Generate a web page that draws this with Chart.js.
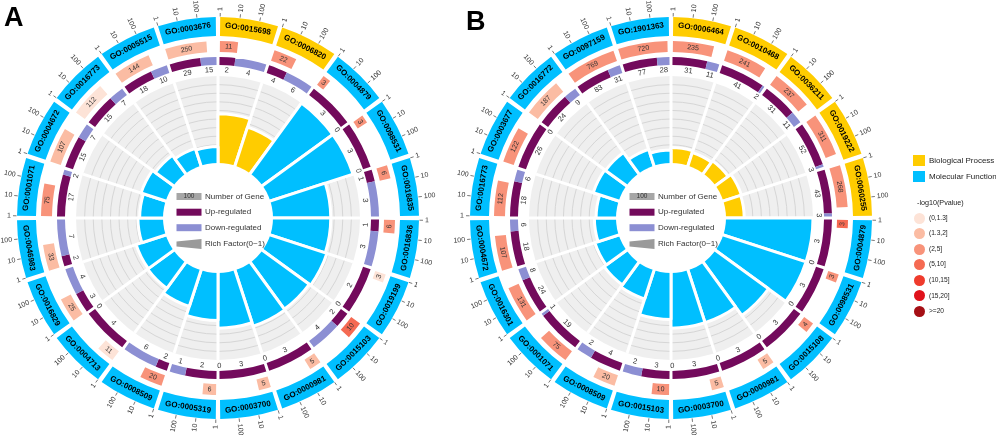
<!DOCTYPE html>
<html lang="en">
<head>
<meta charset="UTF-8" />
<title>GO enrichment circos</title>
<script src="https://cdn.jsdelivr.net/npm/chart.js"></script>
<style>
  body { margin: 0; background: #fff; font-family: "Liberation Sans", Arial, sans-serif; }
  #wrap { position: relative; width: 996px; height: 440px; overflow: hidden; }
  canvas { position: absolute; }
  .tag { position: absolute; font-weight: bold; font-size: 27px; color: #000; }
  .leg { position: absolute; font-size: 8px; color: #222; white-space: nowrap; }
  .sq { position: absolute; width: 12px; height: 11px; }
  .dot { position: absolute; width: 11px; height: 11px; border-radius: 50%; }
</style>
</head>
<body>
<div id="wrap">
  <canvas id="polarA" width="284" height="284" style="left:76px;top:76px"></canvas>
  <canvas id="ringA" width="996" height="440" style="left:0;top:0"></canvas>
  <canvas id="polarB" width="284" height="284" style="left:529px;top:76px"></canvas>
  <canvas id="ringB" width="996" height="440" style="left:0;top:0"></canvas>
  <div class="tag" style="left:4px;top:2px">A</div>
  <div class="tag" style="left:466px;top:6px">B</div>
  <div id="legend"></div>
</div>

<script>
  // ---- plot A ----
  const goA = ['GO:0015698', 'GO:0006820', 'GO:0004879', 'GO:0098531', 'GO:0016835', 'GO:0016836', 'GO:0019199',
    'GO:0015103', 'GO:0000981', 'GO:0003700', 'GO:0005319', 'GO:0008509', 'GO:0004713', 'GO:0016829',
    'GO:0046983', 'GO:0001071', 'GO:0004672', 'GO:0016773', 'GO:0005515', 'GO:0003676'];
  const typeA = ['BP', 'BP', 'MF', 'MF', 'MF', 'MF', 'MF', 'MF', 'MF', 'MF', 'MF', 'MF', 'MF', 'MF', 'MF', 'MF', 'MF', 'MF', 'MF', 'MF'];
  const countA = [11, 22, 3, 3, 6, 6, 3, 10, 5, 5, 6, 20, 11, 25, 33, 75, 107, 112, 144, 250];
  const pcatA = [2, 2, 2, 2, 2, 2, 0, 3, 1, 1, 1, 2, 0, 1, 1, 2, 1, 0, 1, 1];
  const upA = [2, 4, 3, 3, 1, 1, 2, 2, 3, 3, 2, 2, 4, 3, 2, 17, 15, 15, 18, 29];
  const downA = [4, 6, 0, 0, 3, 3, 0, 4, 0, 0, 1, 6, 0, 4, 7, 2, 7, 7, 10, 15];
  const richA = [0.56, 0.46, 1.0, 1.0, 0.66, 0.66, 0.68, 0.66, 0.67, 0.63, 0.54, 0.43, 0.36, 0.35, 0.28, 0.26, 0.29, 0.25, 0.2, 0.18];

  // ---- plot B ----
  const goB = ['GO:0006464', 'GO:0010468', 'GO:0036211', 'GO:0019222', 'GO:0060255', 'GO:0004879', 'GO:0098531',
    'GO:0015108', 'GO:0000981', 'GO:0003700', 'GO:0015103', 'GO:0008509', 'GO:0001071', 'GO:0016301',
    'GO:0004672', 'GO:0016773', 'GO:0003677', 'GO:0016772', 'GO:0097159', 'GO:1901363'];
  const typeB = ['BP', 'BP', 'BP', 'BP', 'BP', 'MF', 'MF', 'MF', 'MF', 'MF', 'MF', 'MF', 'MF', 'MF', 'MF', 'MF', 'MF', 'MF', 'MF', 'MF'];
  const countB = [235, 241, 237, 311, 268, 3, 3, 4, 5, 5, 10, 20, 75, 131, 107, 112, 122, 187, 769, 720];
  const pcatB = [2, 2, 2, 2, 2, 3, 2, 2, 1, 1, 2, 1, 2, 2, 2, 2, 2, 1, 2, 2];
  const upB = [31, 41, 31, 52, 43, 3, 3, 3, 3, 3, 3, 4, 19, 24, 18, 18, 26, 24, 83, 77];
  const downB = [11, 2, 11, 3, 3, 0, 0, 0, 0, 0, 2, 2, 1, 8, 6, 6, 0, 9, 31, 28];
  const richB = [0.17, 0.15, 0.17, 0.21, 0.2, 1.0, 1.0, 0.75, 0.63, 0.63, 0.53, 0.34, 0.31, 0.28, 0.24, 0.22, 0.3, 0.29, 0.19, 0.14];

  // legends / axis
  const tickVals = [1, 10, 100];
  const pLabels = ['(0,1.3]', '(1.3,2]', '(2,5]', '(5,10]', '(10,15]', '(15,20]', '>=20'];
  const pColors = ['#fde3d7', '#fbbca3', '#f8937a', '#f56a52', '#ef3b2c', '#e0121b', '#a50f15'];
  const typeNames = { BP: 'Biological Process', MF: 'Molecular Function' };
  const typeColors = { BP: '#ffcc00', MF: '#00bfff' };
  const UP = '#730a5c', DOWN = '#8c8fd3';

  const LMAX = 2.95;       // log10 range of one sector
  const G_BAND = 0.07, G_RING = 0.06;
  const R0 = 56, R1 = 142; // inner white disk, outer edge of rich factor track

  Chart.defaults.font.family = '"Liberation Sans", Arial, sans-serif';
  Chart.defaults.animation = false;

  function fromTop(a) {
    const t = a + Math.PI / 2;
    return ((t % (2 * Math.PI)) + 2 * Math.PI) % (2 * Math.PI);
  }
  function tangentRot(a) {
    const t = fromTop(a);
    return (t > Math.PI / 2 && t < 3 * Math.PI / 2) ? a - Math.PI / 2 : a + Math.PI / 2;
  }
  function putText(ctx, txt, x, y, rot, align) {
    ctx.save();
    ctx.translate(x, y);
    ctx.rotate(rot);
    ctx.textAlign = align || 'center';
    ctx.textBaseline = 'middle';
    ctx.fillText(txt, 0, 0);
    ctx.restore();
  }

  function makePolar(id, go, type, rich) {
    const centerLegend = {
      id: 'centerLegend',
      afterDatasetsDraw(chart) {
        const sc = chart.scales.r, ctx = chart.ctx;
        const cx = sc.xCenter, cy = sc.yCenter;
        ctx.save();
        ctx.beginPath();
        ctx.arc(cx, cy, sc.getDistanceFromCenterForValue(0) - 1, 0, 2 * Math.PI);
        ctx.fillStyle = '#fff';
        ctx.fill();
        const rows = [-21.5, -5.8, 9.7, 26];
        const names = ['Number of Gene', 'Up-regulated', 'Down-regulated', 'Rich Factor(0~1)'];
        const bx = cx - 41.5, bw = 25;
        ctx.fillStyle = '#a6a6a6';
        ctx.fillRect(bx, cy + rows[0] - 3.5, bw, 7);
        ctx.fillStyle = '#333';
        ctx.font = '6.5px "Liberation Sans"';
        putText(ctx, '100', bx + bw / 2, cy + rows[0], 0);
        ctx.fillStyle = UP;
        ctx.fillRect(bx, cy + rows[1] - 3.5, bw, 7);
        ctx.fillStyle = DOWN;
        ctx.fillRect(bx, cy + rows[2] - 3.5, bw, 7);
        ctx.fillStyle = '#9a9a9a';
        ctx.beginPath();
        ctx.moveTo(bx, cy + rows[3] - 2.5);
        ctx.lineTo(bx + bw, cy + rows[3] - 5);
        ctx.lineTo(bx + bw, cy + rows[3] + 5);
        ctx.lineTo(bx, cy + rows[3] + 2.5);
        ctx.closePath();
        ctx.fill();
        ctx.fillStyle = '#333';
        ctx.font = '8px "Liberation Sans"';
        names.forEach((n, i) => putText(ctx, n, cx - 13, cy + rows[i], 0, 'left'));
        ctx.restore();
      }
    };
    return new Chart(document.getElementById(id), {
      type: 'polarArea',
      data: {
        labels: go,
        datasets: [{
          data: rich,
          backgroundColor: type.map(t => typeColors[t]),
          borderColor: '#fff',
          borderWidth: 3
        }]
      },
      options: {
        responsive: false,
        layout: { padding: 0 },
        plugins: { legend: { display: false }, tooltip: { enabled: false } },
        scales: {
          r: {
            min: -R0 / (R1 - R0),
            max: 1,
            startAngle: 0,
            backgroundColor: '#efefef',
            grid: {
              circular: true,
              lineWidth: 1,
              color: c => (c.tick && c.tick.value > 0.05 && c.tick.value < 0.95) ? '#d6d6d6' : 'rgba(0,0,0,0)'
            },
            angleLines: { display: true, color: '#fff', lineWidth: 3 },
            ticks: { display: false, stepSize: 0.1, maxTicksLimit: 40 },
            pointLabels: { display: false }
          }
        }
      },
      plugins: [centerLegend]
    });
  }

  function makeRing(id, cx, go, type, count, pcat, up, down) {
    const band = [], bandCol = [], cnt = [], cntCol = [], ud = [], udCol = [];
    go.forEach((g, i) => {
      band.push(G_BAND / 2, 1 - G_BAND, G_BAND / 2);
      bandCol.push('rgba(0,0,0,0)', typeColors[type[i]], 'rgba(0,0,0,0)');
      const f = Math.log10(count[i]) / LMAX;
      cnt.push(G_BAND / 2, (1 - G_BAND) * f, (1 - G_BAND) * (1 - f), G_BAND / 2);
      cntCol.push('rgba(0,0,0,0)', pColors[pcat[i]], 'rgba(0,0,0,0)', 'rgba(0,0,0,0)');
      const t = up[i] + down[i];
      ud.push(G_RING / 2, (1 - G_RING) * up[i] / t, (1 - G_RING) * down[i] / t, G_RING / 2);
      udCol.push('rgba(0,0,0,0)', UP, DOWN, 'rgba(0,0,0,0)');
    });

    const ringText = {
      id: 'ringText',
      afterDatasetsDraw(chart) {
        const ctx = chart.ctx;
        const bandEls = chart.getDatasetMeta(0).data;
        const cntEls = chart.getDatasetMeta(2).data;
        const udEls = chart.getDatasetMeta(4).data;
        ctx.save();
        go.forEach((g, i) => {
          const el = bandEls[3 * i + 1];
          const x = el.x, y = el.y, s = el.startAngle, e = el.endAngle;
          const ro = el.outerRadius, ri = el.innerRadius;
          // GO label
          const mid = (s + e) / 2, rm = (ro + ri) / 2;
          ctx.fillStyle = '#000';
          ctx.font = 'bold 8px "Liberation Sans"';
          putText(ctx, g, x + rm * Math.cos(mid), y + rm * Math.sin(mid), tangentRot(mid));
          // log ticks
          ctx.strokeStyle = '#555';
          ctx.lineWidth = 0.8;
          ctx.fillStyle = '#333';
          ctx.font = '7px "Liberation Sans"';
          tickVals.forEach(v => {
            const a = s + (e - s) * Math.log10(v) / LMAX;
            ctx.beginPath();
            ctx.moveTo(x + (ro + 0.5) * Math.cos(a), y + (ro + 0.5) * Math.sin(a));
            ctx.lineTo(x + (ro + 4) * Math.cos(a), y + (ro + 4) * Math.sin(a));
            ctx.stroke();
            const tx = x + (ro + 6) * Math.cos(a), ty = y + (ro + 6) * Math.sin(a);
            if (fromTop(a) < Math.PI) putText(ctx, String(v), tx, ty, a, 'left');
            else putText(ctx, String(v), tx, ty, a + Math.PI, 'right');
          });
          // gene count
          const ce = cntEls[4 * i + 1];
          const cm = (ce.startAngle + ce.endAngle) / 2, cr = (ce.outerRadius + ce.innerRadius) / 2;
          ctx.fillStyle = '#333';
          ctx.font = '7px "Liberation Sans"';
          putText(ctx, String(count[i]), x + cr * Math.cos(cm), y + cr * Math.sin(cm), tangentRot(cm));
          // up / down numbers
          ctx.font = '7.5px "Liberation Sans"';
          [[udEls[4 * i + 1], up[i]], [udEls[4 * i + 2], down[i]]].forEach(([u, n]) => {
            const m = (u.startAngle + u.endAngle) / 2, r = u.innerRadius - 5;
            putText(ctx, String(n), x + r * Math.cos(m), y + r * Math.sin(m), tangentRot(m));
          });
        });
        ctx.restore();
      }
    };

    return new Chart(document.getElementById(id), {
      type: 'doughnut',
      data: {
        datasets: [
          { data: band, backgroundColor: bandCol, borderWidth: 0, weight: 19 },
          { data: [1], backgroundColor: ['rgba(0,0,0,0)'], borderWidth: 0, weight: 5 },
          { data: cnt, backgroundColor: cntCol, borderWidth: 0, weight: 11 },
          { data: [1], backgroundColor: ['rgba(0,0,0,0)'], borderWidth: 0, weight: 5 },
          { data: ud, backgroundColor: udCol, borderWidth: 0, weight: 8 }
        ]
      },
      options: {
        responsive: false,
        radius: 201,
        cutout: (153 / 201 * 100) + '%',
        layout: { padding: { left: cx - 218, right: 996 - cx - 218, top: 0, bottom: 4 } },
        plugins: { legend: { display: false }, tooltip: { enabled: false } }
      },
      plugins: [ringText]
    });
  }

  makePolar('polarA', goA, typeA, richA);
  makePolar('polarB', goB, typeB, richB);
  makeRing('ringA', 218, goA, typeA, countA, pcatA, upA, downA);
  makeRing('ringB', 671, goB, typeB, countB, pcatB, upB, downB);

  // right-hand legend
  const leg = document.getElementById('legend');
  let html = '';
  ['BP', 'MF'].forEach((t, i) => {
    const y = 155 + i * 16;
    html += '<div class="sq" style="left:913px;top:' + y + 'px;background:' + typeColors[t] + '"></div>';
    html += '<div class="leg" style="left:929px;top:' + (y + 1) + 'px">' + typeNames[t] + '</div>';
  });
  html += '<div class="leg" style="left:917px;top:198px;font-size:7.2px">-log10(Pvalue)</div>';
  pLabels.forEach((p, i) => {
    const y = 218.3 + i * 15.55;
    html += '<div class="dot" style="left:' + (919.3 - 5.7) + 'px;top:' + (y - 5.7) + 'px;background:' + pColors[i] + '"></div>';
    html += '<div class="leg" style="left:929px;top:' + (y - 4.5) + 'px;font-size:6.6px">' + p + '</div>';
  });
  leg.innerHTML = html;
</script>
</body>
</html>
